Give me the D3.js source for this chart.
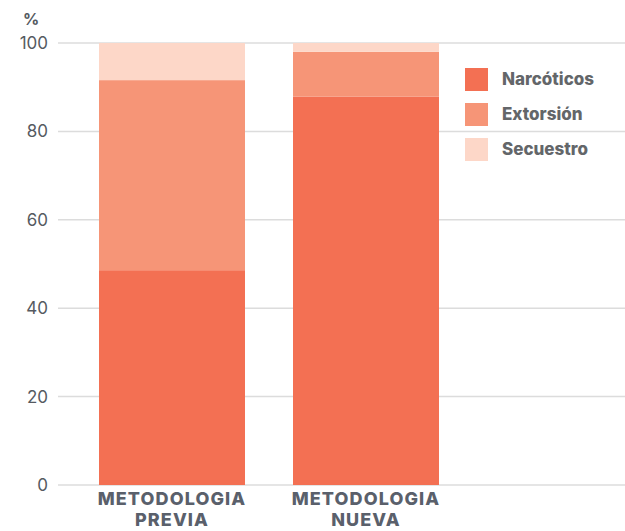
<!DOCTYPE html>
<html>
<head>
<meta charset="utf-8">
<script src="https://cdn.jsdelivr.net/npm/d3@7"></script>
<style>
  body { margin: 0; background: #fff; }
  text { font-family: Inter, "Noto Sans", sans-serif; }
</style>
</head>
<body>
<svg id="chart"></svg>
<script>
// data
const methods = ["METODOLOGIA PREVIA", "METODOLOGIA NUEVA"];
const crimes = ["Narcóticos", "Extorsión", "Secuestro"];
const narcoticos = [48.6, 87.9];
const extorsion = [43.0, 10.1];
const secuestro = [8.4, 2.0];
const yTicks = [0, 20, 40, 60, 80, 100];

const width = 625, height = 531;
const margin = { top: 43, right: 0, bottom: 46, left: 58 };

const svg = d3.select("#chart").attr("width", width).attr("height", height);

const color = d3.scaleOrdinal()
  .domain(crimes)
  .range(["#f37053", "#f69577", "#fdd7c8"]);

const rows = methods.map((m, i) => ({
  method: m,
  "Narcóticos": narcoticos[i],
  "Extorsión": extorsion[i],
  "Secuestro": secuestro[i]
}));
const stacked = d3.stack().keys(crimes)(rows);

// bar left edges
const xPos = d3.scalePoint().domain(methods).range([99, 293]);
const barW = 146;

const y = d3.scaleLinear().domain([0, 100]).range([height - margin.bottom, margin.top]);

// gridlines
svg.append("g")
  .selectAll("line")
  .data(yTicks)
  .join("line")
  .attr("x1", margin.left)
  .attr("x2", width)
  .attr("y1", d => y(d))
  .attr("y2", d => y(d))
  .attr("stroke", "#dcdcdc")
  .attr("stroke-width", 1.5);

// tick labels
svg.append("g")
  .selectAll("text")
  .data(yTicks)
  .join("text")
  .attr("x", 48)
  .attr("y", d => y(d))
  .attr("dy", "0.35em")
  .attr("text-anchor", "end")
  .attr("fill", "#555a61")
  .attr("font-size", 17)
  .text(d => d);

svg.append("text")
  .attr("x", 31)
  .attr("y", 25)
  .attr("text-anchor", "middle")
  .attr("fill", "#555a61")
  .attr("font-size", 16)
  .attr("font-weight", 700)
  .text("%");

// bars
svg.append("g")
  .selectAll("g")
  .data(stacked)
  .join("g")
  .attr("fill", d => color(d.key))
  .selectAll("rect")
  .data(d => d)
  .join("rect")
  .attr("x", d => xPos(d.data.method))
  .attr("width", barW)
  .attr("y", d => y(d[1]))
  .attr("height", d => y(d[0]) - y(d[1]));

// category labels
const catLabels = svg.append("g")
  .selectAll("text")
  .data(methods)
  .join("text")
  .attr("y", 505)
  .attr("text-anchor", "middle")
  .attr("fill", "#5a606b")
  .attr("font-size", 18)
  .attr("font-weight", 800)
  .attr("letter-spacing", 1.1);

catLabels.each(function (d) {
  const words = d.split(" ");
  const t = d3.select(this);
  words.forEach((w, i) => {
    t.append("tspan")
      .attr("x", xPos(d) + barW / 2)
      .attr("dy", i === 0 ? 0 : 21)
      .text(w);
  });
});

// legend
const legend = svg.append("g").attr("transform", "translate(465,68)");
const items = legend.selectAll("g")
  .data(crimes)
  .join("g")
  .attr("transform", (d, i) => `translate(0,${i * 35})`);

items.append("rect")
  .attr("width", 23)
  .attr("height", 23)
  .attr("fill", d => color(d));

items.append("text")
  .attr("x", 37)
  .attr("y", 11.5)
  .attr("dy", "0.35em")
  .attr("fill", "#636669")
  .attr("font-size", 17)
  .attr("font-weight", 800)
  .text(d => d);
</script>
</body>
</html>
